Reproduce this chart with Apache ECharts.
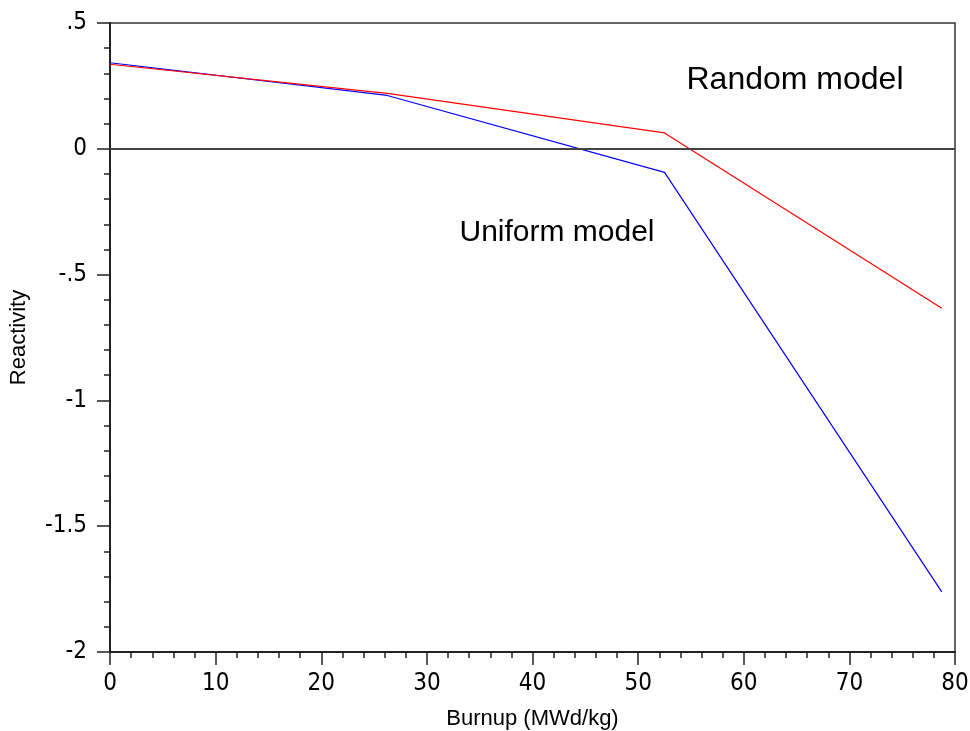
<!DOCTYPE html>
<html>
<head>
<meta charset="utf-8">
<script src="https://cdn.jsdelivr.net/npm/echarts@6/dist/echarts.min.js"></script>
<style>html,body{margin:0;padding:0;background:#fff}#c{width:970px;height:731px}</style>
</head>
<body>
<div id="c"></div>
<script>
const burnup = [0, 26.25, 52.5, 78.75];
const randomModel = [0.336, 0.220, 0.063, -0.634];
const uniformModel = [0.342, 0.212, -0.094, -1.761];
const xTicks = [0, 10, 20, 30, 40, 50, 60, 70, 80];
const yTicks = [0.5, 0, -0.5, -1, -1.5, -2];

function yFmt(v) {
  if (Math.abs(v) < 1e-9) return '0';
  let s = String(Math.round(v * 10) / 10);
  s = s.replace(/^0\./, '.').replace(/^-0\./, '-.');
  return s;
}

const chart = echarts.init(document.getElementById('c'));
const tickFont = "'Liberation Sans Narrow', 'DejaVu Sans Condensed', 'Arial Narrow', sans-serif";
const textFont = "'Liberation Sans', Arial, sans-serif";
chart.setOption({
  animation: false,
  grid: { left: 110, right: 15, top: 23, bottom: 79, containLabel: false, outerBoundsMode: 'none', show: true, borderColor: '#333', borderWidth: 1.5, backgroundColor: 'transparent' },
  xAxis: {
    type: 'value', min: xTicks[0], max: xTicks[xTicks.length - 1], interval: 10,
    name: 'Burnup (MWd/kg)', nameLocation: 'middle', nameGap: 56,
    nameTextStyle: { fontFamily: textFont, fontSize: 22, color: '#000' },
    axisLine: { show: true, onZero: false, lineStyle: { color: '#222', width: 2 } },
    axisTick: { show: true, inside: false, length: 13, lineStyle: { color: '#222', width: 1.5 } },
    minorTick: { show: true, splitNumber: 5, length: 6, lineStyle: { color: '#222', width: 1.5 } },
    axisLabel: { margin: 20, fontFamily: tickFont, fontSize: 24, color: '#000' },
    splitLine: { show: false }
  },
  yAxis: {
    type: 'value', min: -2, max: 0.5, interval: 0.5,
    name: 'Reactivity', nameLocation: 'middle', nameGap: 80, nameRotate: 90,
    nameTextStyle: { fontFamily: textFont, fontSize: 22, color: '#000' },
    axisLine: { show: true, onZero: false, lineStyle: { color: '#222', width: 2 } },
    axisTick: { show: true, inside: false, length: 13, lineStyle: { color: '#222', width: 1.5 } },
    minorTick: { show: true, splitNumber: 5, length: 6, lineStyle: { color: '#222', width: 1.5 } },
    axisLabel: { margin: 23, fontFamily: tickFont, fontSize: 24, color: '#000', formatter: yFmt },
    splitLine: { show: false }
  },
  series: [
    {
      name: 'Uniform model', type: 'line', showSymbol: false, symbol: 'none',
      data: burnup.map((x, i) => [x, uniformModel[i]]),
      lineStyle: { color: '#0000ff', width: 1.2 },
      markLine: {
        silent: true, symbol: 'none', label: { show: false },
        lineStyle: { color: '#444', width: 2, type: 'solid' },
        data: [{ yAxis: 0 }]
      }
    },
    {
      name: 'Random model', type: 'line', showSymbol: false, symbol: 'none',
      data: burnup.map((x, i) => [x, randomModel[i]]),
      lineStyle: { color: '#ff0000', width: 1.2 }
    }
  ],
  graphic: [
    { type: 'text', x: 795, y: 80, style: { text: 'Random model', align: 'center', verticalAlign: 'middle', fontFamily: textFont, fontSize: 32, fill: '#000' } },
    { type: 'text', x: 557, y: 233, style: { text: 'Uniform model', align: 'center', verticalAlign: 'middle', fontFamily: textFont, fontSize: 30, fill: '#000' } }
  ]
});
</script>
</body>
</html>
